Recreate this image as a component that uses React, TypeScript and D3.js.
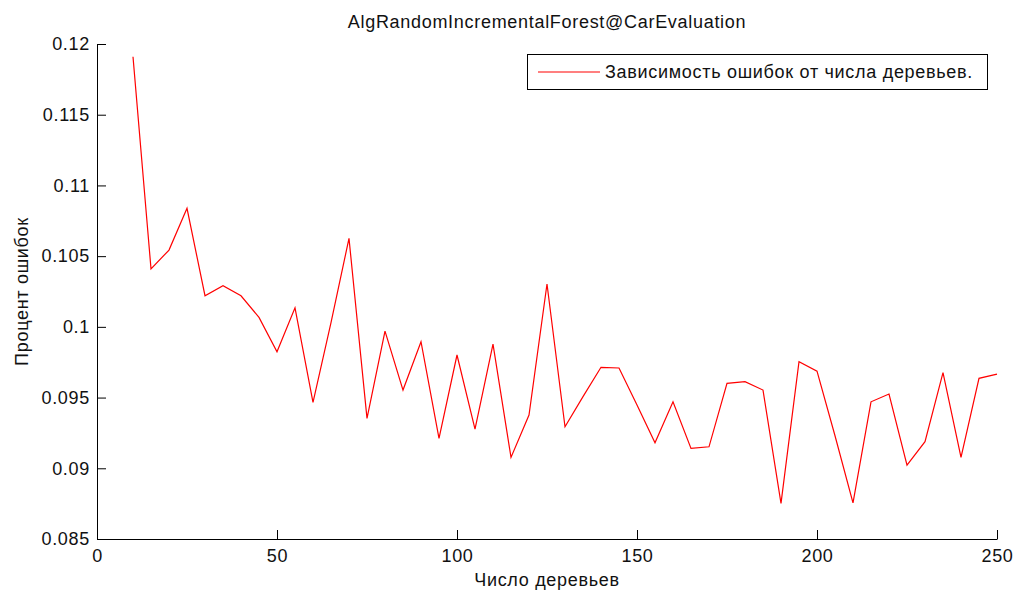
import React, { useEffect, useRef } from 'react';
import * as d3 from 'd3';

// число деревьев в лесу
const treeCounts = [
  10, 15, 20, 25, 30, 35, 40, 45, 50, 55, 60, 65, 70, 75, 80, 85, 90, 95, 100,
  105, 110, 115, 120, 125, 130, 135, 140, 145, 150, 155, 160, 165, 170, 175,
  180, 185, 190, 195, 200, 205, 210, 215, 220, 225, 230, 235, 240, 245, 250,
];

// процент ошибок
const errorRates = [
  0.1191, 0.1041, 0.10543, 0.10838, 0.1022, 0.10291, 0.1022, 0.10067, 0.09824,
  0.10135, 0.09466, 0.1003, 0.10626, 0.09353, 0.0997, 0.09553, 0.09895, 0.09211,
  0.09801, 0.09277, 0.09878, 0.09077, 0.09376, 0.10303, 0.09294, 0.09507,
  0.09714, 0.09709, 0.09447, 0.0918, 0.0947, 0.09141, 0.09152, 0.096, 0.09612,
  0.09553, 0.08752, 0.09753, 0.09687, 0.0923, 0.08756, 0.0947, 0.09525, 0.09023,
  0.09188, 0.09676, 0.09077, 0.09636, 0.09666,
];

const xTicks = [0, 50, 100, 150, 200, 250];
const yTicks = [0.085, 0.09, 0.095, 0.1, 0.105, 0.11, 0.115, 0.12];
const yTickLabels = ['0.085', '0.09', '0.095', '0.1', '0.105', '0.11', '0.115', '0.12'];

const title = 'AlgRandomIncrementalForest@CarEvaluation';
const xLabel = 'Число деревьев';
const yLabel = 'Процент ошибок';
const legendLabel = 'Зависимость ошибок от числа деревьев.';

const W = 1015;
const H = 593;
const FONT = '"Liberation Sans", Arial, sans-serif';
const SPACING = 0.7;

export default function App() {
  const ref = useRef<SVGSVGElement>(null);

  useEffect(() => {
    const svg = d3.select(ref.current);
    svg.selectAll('*').remove();

    const left = 97, right = 997, top = 44, bottom = 539;

    const x = d3.scaleLinear().domain([0, 250]).range([left, right]);
    const y = d3.scaleLinear().domain([0.085, 0.12]).range([bottom, top]);

    // оси: только левая и нижняя, засечки внутрь
    const xAxis = d3.axisBottom(x)
      .tickValues(xTicks)
      .tickSizeInner(-9)
      .tickSizeOuter(0)
      .tickPadding(10)
      .tickFormat(d3.format('d') as any);

    const yAxis = d3.axisLeft(y)
      .tickValues(yTicks)
      .tickSizeInner(-9)
      .tickSizeOuter(0)
      .tickPadding(7)
      .tickFormat((d, i) => yTickLabels[i]);

    const gx = svg.append('g')
      .attr('transform', `translate(0,${bottom})`)
      .call(xAxis);
    const gy = svg.append('g')
      .attr('transform', `translate(${left},0)`)
      .call(yAxis);

    [gx, gy].forEach(g => {
      g.attr('font-family', FONT).attr('font-size', 18);
      g.select('.domain').attr('stroke', '#000');
      g.selectAll('.tick line').attr('stroke', '#000');
      g.selectAll('.tick text').attr('fill', '#111').attr('letter-spacing', SPACING);
    });

    // кривая
    const line = d3.line<number>()
      .x((d, i) => x(treeCounts[i]))
      .y(d => y(d));

    svg.append('path')
      .datum(errorRates)
      .attr('d', line)
      .attr('fill', 'none')
      .attr('stroke', '#ff0000')
      .attr('stroke-width', 1.2);

    const addText = (t: string) => svg.append('text')
      .attr('font-family', FONT)
      .attr('font-size', 18)
      .attr('fill', '#111')
      .attr('letter-spacing', SPACING)
      .text(t);

    // заголовок и подписи осей
    addText(title)
      .attr('x', (left + right) / 2)
      .attr('y', 28)
      .attr('text-anchor', 'middle');

    addText(xLabel)
      .attr('x', (left + right) / 2)
      .attr('y', 586)
      .attr('text-anchor', 'middle');

    addText(yLabel)
      .attr('transform', `translate(28,${(top + bottom) / 2}) rotate(-90)`)
      .attr('text-anchor', 'middle');

    // легенда
    const lg = svg.append('g');
    lg.append('rect')
      .attr('x', 527.5)
      .attr('y', 54.5)
      .attr('width', 460)
      .attr('height', 35)
      .attr('fill', '#fff')
      .attr('stroke', '#000');
    lg.append('line')
      .attr('x1', 538)
      .attr('x2', 600)
      .attr('y1', 72)
      .attr('y2', 72)
      .attr('stroke', '#ff0000')
      .attr('stroke-width', 1.2);
    lg.append('text')
      .attr('x', 605)
      .attr('y', 78)
      .attr('font-family', FONT)
      .attr('font-size', 18)
      .attr('fill', '#111')
      .attr('letter-spacing', SPACING)
      .text(legendLabel);
  }, []);

  return (
    <svg
      ref={ref}
      width={W}
      height={H}
      style={{ position: 'absolute', left: 0, top: 0, background: '#fff' }}
    />
  );
}
